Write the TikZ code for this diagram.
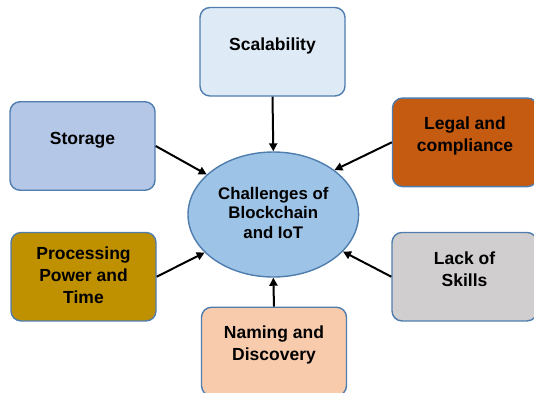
\documentclass[tikz,border=0pt]{standalone}
\usepackage{fontspec}
\setmainfont{Liberation Sans}
\usetikzlibrary{shapes.geometric,arrows.meta}
\definecolor{bordc}{HTML}{4F7DAE}
\definecolor{cscal}{HTML}{DEEBF7}
\definecolor{cstor}{HTML}{B4C7E7}
\definecolor{clegal}{HTML}{C55A11}
\definecolor{cell}{HTML}{9DC3E6}
\definecolor{cproc}{HTML}{BF9000}
\definecolor{clack}{HTML}{D0CECE}
\definecolor{cname}{HTML}{F8CBAD}
\tikzset{
  box/.style={draw=bordc, line width=1.4pt, rounded corners=10pt, minimum width=145pt, minimum height=88.5pt, inner sep=0pt},
  txt/.style={font=\fontsize{17.5}{22}\selectfont\bfseries, align=center, text=black},
  etxt/.style={font=\fontsize{16.8}{19.5}\selectfont\bfseries, align=center, text=black},
  arr/.style={draw=black, line width=2pt, -{Triangle[length=8pt,width=8pt]}}
}
\begin{document}
\begin{tikzpicture}[x=1pt,y=-1pt]
\useasboundingbox (0,0) rectangle (534,392);
\clip (0,0) rectangle (534,392);
\node[ellipse, draw=bordc, line width=1.4pt, fill=cell, minimum width=170.6pt, minimum height=125pt, inner sep=0pt,
  label={[etxt,yshift=2pt]center:Challenges of\\Blockchain\\and IoT}] (ell) at (273.3,214.5) {};
\node[box, fill=cscal, label={[txt,yshift=6pt]center:Scalability}] (scal) at (272.5,51.75) {};
\node[box, fill=cstor, label={[txt,yshift=6pt]center:Storage}] (stor) at (82.5,146) {};
\node[box, fill=clegal, label={[txt,yshift=6.5pt]center:Legal and\\compliance}] (legal) at (465,142.3) {};
\node[box, fill=cproc, label={[txt,yshift=1pt]center:Processing\\Power and\\Time}] (proc) at (83.5,276.7) {};
\node[box, fill=clack, label={[txt,yshift=7pt]center:Lack of\\Skills}] (lack) at (464.5,276.7) {};
\node[box, fill=cname, label={[txt,yshift=6.5pt]center:Naming and\\Discovery}] (name) at (274,351.5) {};
\draw[arr] (scal.south) -- (ell.north);
\draw[arr] (stor.east) -- (ell.149.6);
\draw[arr] (legal.west) -- (ell.36.2);
\draw[arr] (proc.east) -- (ell.209.8);
\draw[arr] (lack.west) -- (ell.332.3);
\draw[arr] (name.north) -- (ell.south);
\end{tikzpicture}
\end{document}
